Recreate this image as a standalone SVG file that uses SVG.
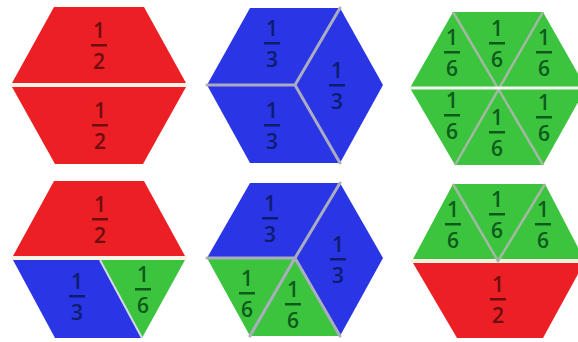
<svg xmlns="http://www.w3.org/2000/svg" width="578" height="342" viewBox="0 0 578 342">
<style>
.r{fill:#ec1f25}.b{fill:#2a35e6}.g{fill:#3dc43f}
.gap{stroke:#fbf3e6;stroke-width:4;fill:none}
.gl{stroke:#a9adbf;stroke-width:3;fill:none;stroke-linecap:round}
.gg{stroke:#a3b8a3;stroke-width:2.5;fill:none}
text{font-family:"Open Sans","Liberation Sans",sans-serif;font-size:21px;font-weight:600;text-anchor:middle}
.tr{fill:#6e0d10}.tb{fill:#0d1d6e}.tg{fill:#0c5a1c}
</style>
<defs>
<g id="f2"><text x="0" y="-7">1</text><rect x="-8" y="-1" width="16" height="2.5"/><text x="0" y="24">2</text></g>
<g id="f3"><text x="0" y="-7">1</text><rect x="-8" y="-1" width="16" height="2.5"/><text x="0" y="24">3</text></g>
<g id="f6"><text x="0" y="-7">1</text><rect x="-8" y="-1" width="16" height="2.5"/><text x="0" y="24">6</text></g>
</defs>
<rect width="578" height="342" fill="#ffffff"/>
<g id="hex-halves">
<polygon class="r" points="12,83 54,7 144,7 186,83"/>
<polygon class="r" points="12,87 186,87 143,164 55,164"/>
<line class="gap" x1="10" y1="85" x2="188" y2="85"/>
<g class="tr"><use href="#f2" x="99" y="45"/><use href="#f2" x="100" y="125"/></g>
</g>
<g id="hex-thirds">
<polygon class="b" points="207,85 250,8 340,8 383,85 340,163 250,163"/>
<path class="gl" d="M207,85 L295,85 M295,85 L340,8 M295,85 L340,163"/>
<g class="tb"><use href="#f3" x="272" y="43"/><use href="#f3" x="337" y="85"/><use href="#f3" x="272" y="125"/></g>
</g>
<g id="hex-sixths">
<polygon class="g" points="410,88 453,12 543,12 586,88 543,165 455,165"/>
<path class="gg" d="M453,12 L543,165 M543,12 L455,165"/>
<line x1="410" y1="88" x2="578" y2="88" stroke="#f4f7f2" stroke-width="3"/>
<g class="tg"><use href="#f6" x="452" y="52"/><use href="#f6" x="497" y="43"/><use href="#f6" x="544" y="52"/><use href="#f6" x="452" y="115"/><use href="#f6" x="497" y="132"/><use href="#f6" x="544" y="117"/></g>
</g>
<g id="hex-half-third-sixth">
<polygon class="r" points="13,256 54,181 144,181 185,256"/>
<polygon class="b" points="13,260 100,260 142,338 55,338"/>
<polygon class="g" points="100,260 185,260 142,338"/>
<line class="gap" x1="11" y1="258" x2="187" y2="258"/>
<line x1="100" y1="260" x2="142" y2="338" stroke="#d3dae4" stroke-width="2"/>
<g class="tr"><use href="#f2" x="100" y="219"/></g>
<g class="tb"><use href="#f3" x="77" y="296"/></g>
<g class="tg"><use href="#f6" x="143" y="289"/></g>
</g>
<g id="hex-thirds-sixths">
<polygon class="b" points="207,258 250,183 340,183 383,258 340,336 295,258"/>
<polygon class="g" points="207,258 295,258 340,336 250,336"/>
<path class="gl" d="M207,258 L295,258 M295,258 L340,183 M295,258 L340,336 M295,258 L250,336"/>
<g class="tb"><use href="#f3" x="270" y="218"/><use href="#f3" x="338" y="259"/></g>
<g class="tg"><use href="#f6" x="247" y="293"/><use href="#f6" x="293" y="304"/></g>
</g>
<g id="hex-sixths-half">
<polygon class="g" points="413,259 453,184 545,184 584,259"/>
<polygon class="r" points="413,263 584,263 543,338 457,338"/>
<line x1="411" y1="261" x2="578" y2="261" stroke="#f5efd8" stroke-width="3"/>
<path class="gg" d="M453,184 L498,261 L545,184"/>
<g class="tg"><use href="#f6" x="453" y="224"/><use href="#f6" x="497" y="214"/><use href="#f6" x="543" y="224"/></g>
<g class="tr"><use href="#f2" x="498" y="299"/></g>
</g>
</svg>
